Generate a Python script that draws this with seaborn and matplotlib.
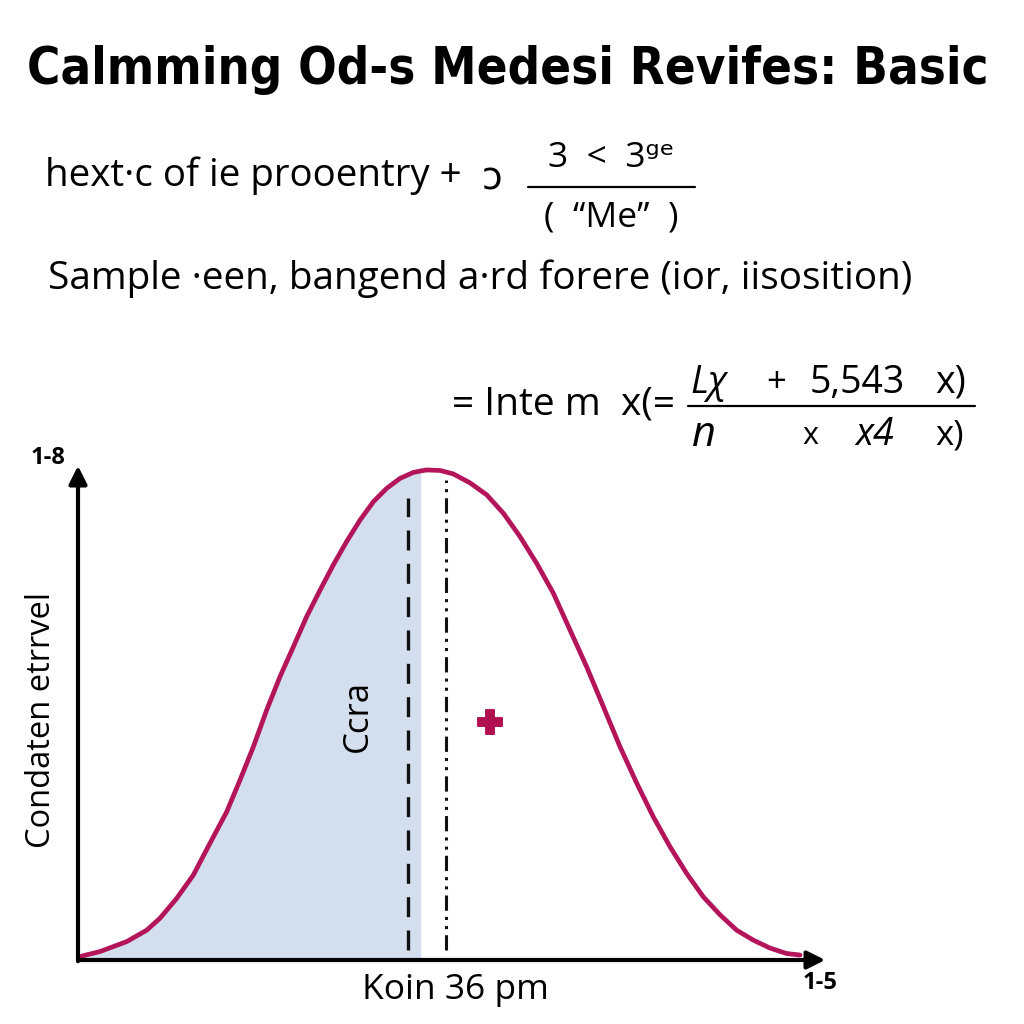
import matplotlib
matplotlib.use("Agg")
import matplotlib.pyplot as plt
from matplotlib import font_manager as fm
import seaborn as sns
import pandas as pd

# ---- data (x: 0..10, y: 0..1) ----
curve_x = [0.027, 0.293, 0.649, 0.916, 1.093, 1.316, 1.538, 1.760, 1.982, 2.160, 2.338, 2.516,
           2.693, 2.871, 3.049, 3.227, 3.404, 3.582, 3.760, 3.938, 4.116, 4.293, 4.471, 4.570,
           4.649, 4.827, 5.004, 5.227, 5.449, 5.671, 5.893, 6.116, 6.338, 6.560, 6.782, 7.004,
           7.227, 7.449, 7.671, 7.893, 8.116, 8.338, 8.560, 8.782, 9.004, 9.227, 9.449, 9.627]
curve_y = [0.007, 0.017, 0.037, 0.060, 0.084, 0.124, 0.171, 0.235, 0.298, 0.362, 0.429, 0.503,
           0.570, 0.630, 0.691, 0.744, 0.795, 0.842, 0.885, 0.922, 0.949, 0.969, 0.981, 0.984,
           0.986, 0.985, 0.978, 0.960, 0.936, 0.899, 0.852, 0.798, 0.738, 0.664, 0.590, 0.510,
           0.429, 0.356, 0.288, 0.228, 0.174, 0.127, 0.091, 0.060, 0.040, 0.024, 0.013, 0.010]
shade_end = 4.57
dashed_x, dashed_y = 4.40, (0.02, 0.93)
dashdot_x, dashdot_y = 4.91, (0.02, 0.966)
plus_x, plus_y = [5.49], [0.479]

title = "Calmming Od-s Medesi Revifes: Basic"
line2 = "hext\u00b7c of ie prooentry +"
line2_sym = "\u2184"
frac1_num = "3  <  3\u1d4d\u1d49"
frac1_den = "(  \u201cMe\u201d  )"
line3 = "Sample \u00b7een, bangend a\u00b7rd forere (ior, iisosition)"
formula_left = "= Inte m  x(="
ylabel = "Condaten etrrvel"
xlabel = "Koin 36 pm"
inner_label = "Ccra"
y_top_label = "1-8"
x_end_label = "1-5"

CURVE = "#b3145a"
FILL = "#d3dfee"

sns.set_theme(style="white")
plt.rcParams['font.family'] = ['Open Sans', 'DejaVu Sans']
plt.rcParams['text.color'] = 'black'

fig = plt.figure(figsize=(10.24, 10.24), dpi=100)
fig.patch.set_facecolor("white")
ax = fig.add_axes([78/1024, 64/1024, 750/1024, 497/1024])
ax.set_xlim(0, 10)
ax.set_ylim(0, 1)
for s in ax.spines.values():
    s.set_visible(False)
ax.set_xticks([]); ax.set_yticks([])

df = pd.DataFrame({"x": curve_x, "y": curve_y})
sub = df[df.x <= shade_end]
ax.fill_between(sub.x, 0, sub.y, color=FILL, lw=0, zorder=1)
sns.lineplot(data=df, x="x", y="y", color=CURVE, lw=3.4, ax=ax, zorder=3, sort=False)

ax.plot([dashed_x, dashed_x], dashed_y, color="#111111", lw=2.4, ls=(0, (6, 4)), zorder=2)
ax.plot([dashdot_x, dashdot_x], dashdot_y, color="#111111", lw=2.2, ls=(0, (5, 2, 1, 2, 1, 2)), zorder=2)
sns.scatterplot(x=plus_x, y=plus_y, marker="P", s=300, color="#b0104f", edgecolor="#b0104f", ax=ax, zorder=4)

# axes with arrows
ax.annotate("", xy=(10.0, 0), xytext=(-0.02, 0), xycoords="data",
            arrowprops=dict(arrowstyle="-|>,head_length=0.9,head_width=0.45", color="black", lw=3),
            annotation_clip=False)
ax.annotate("", xy=(0, 1.0), xytext=(0, -0.008), xycoords="data",
            arrowprops=dict(arrowstyle="-|>,head_length=0.9,head_width=0.45", color="black", lw=3),
            annotation_clip=False)

ax.set_xlabel(""); ax.set_ylabel("")

# texts (figure pixel coordinates from top)
def ft(x, y, s, **kw):
    return fig.text(x/1024, 1 - y/1024, s, **kw)

# title: prefer a condensed bold face, fitted to the reference width
title_fp = None
for f in fm.fontManager.ttflist:
    if f.name == "DejaVu Sans" and "ondensed" in str(f.stretch) + f.fname and f.weight in (700, "bold") \
            and "Oblique" not in f.fname:
        title_fp = fm.FontProperties(fname=f.fname)
        break
if title_fp is None:
    for f in fm.fontManager.ttflist:
        if "Narrow" in f.name and f.weight in (700, "bold") and f.style == "normal":
            title_fp = fm.FontProperties(fname=f.fname)
            break
if title_fp is None:
    title_fp = fm.FontProperties(family="DejaVu Sans", weight="bold")
title_fp.set_size(33)
t = ft(508, 70, title, ha="center", va="center", fontproperties=title_fp)
fig.canvas.draw()
w = t.get_window_extent().width
size = min(33 * 962 / w, 40)
title_fp.set_size(size)
t.set_fontproperties(title_fp)

ft(45, 176, line2, ha="left", va="center", fontsize=27.7)
ft(492, 180, line2_sym, ha="center", va="center", fontsize=27)
ft(611, 158, frac1_num, ha="center", va="center", fontsize=25.5)
fig.add_artist(plt.Line2D([528/1024, 695/1024], [1-187/1024, 1-187/1024], color="black", lw=1.6))
ft(611, 218, frac1_den, ha="center", va="center", fontsize=25.5)
ft(48, 279, line3, ha="left", va="center", fontsize=27.9)

ft(452, 405, formula_left, ha="left", va="center", fontsize=28)
ft(690, 383, "L\u03c7", ha="left", va="center", fontsize=27, style="italic")
ft(776, 383, "+", ha="center", va="center", fontsize=25)
ft(810, 383, "5,543", ha="left", va="center", fontsize=27)
ft(935, 383, "x)", ha="left", va="center", fontsize=27)
fig.add_artist(plt.Line2D([688/1024, 975/1024], [1-406/1024, 1-406/1024], color="black", lw=1.6))
ft(692, 435, "n", ha="left", va="center", fontsize=30, style="italic")
ft(810, 436, "x", ha="center", va="center", fontsize=22)
ft(855, 435, "x4", ha="left", va="center", fontsize=27, style="italic")
ft(935, 436, "x)", ha="left", va="center", fontsize=25)

ft(48, 458, y_top_label, ha="center", va="center", fontsize=17, fontweight="bold")
ft(820, 983, x_end_label, ha="center", va="center", fontsize=17, fontweight="bold")
ft(42, 720, ylabel, ha="center", va="center", fontsize=23.5, rotation=90)
ft(455, 990, xlabel, ha="center", va="center", fontsize=25.5)
ft(358, 716, inner_label, ha="center", va="center", fontsize=25, rotation=90)

fig.savefig("out.png", dpi=100, facecolor="white")
